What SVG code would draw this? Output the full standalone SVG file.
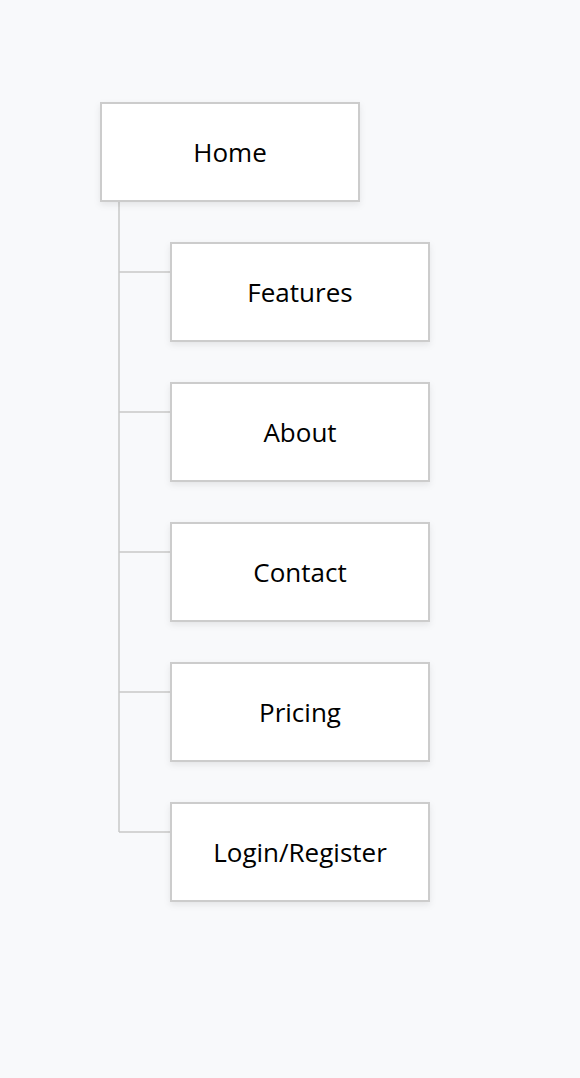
<svg xmlns="http://www.w3.org/2000/svg" width="580" height="1078" viewBox="0 0 580 1078">
<defs>
<filter id="sh" x="-10%" y="-10%" width="130%" height="140%">
<feDropShadow dx="0" dy="3" stdDeviation="3" flood-color="#000" flood-opacity="0.08"/>
</filter>
</defs>
<style>
.box{fill:#ffffff;stroke:#cccccc;stroke-width:2;filter:url(#sh)}
.lbl{font-family:"Open Sans","Noto Sans",sans-serif;font-size:26px;fill:#000;text-anchor:middle}
.con{stroke:#c8c8c8;stroke-width:1.5;fill:none}
</style>
<rect width="580" height="1078" fill="#f8f9fb"/>
<g id="connectors">
<path class="con" d="M119 201V832"/>
<path class="con" d="M119 272H171M119 412H171M119 552H171M119 692H171M119 832H171"/>
</g>
<g id="home"><rect class="box" x="101" y="103" width="258" height="98"/><text class="lbl" x="230" y="162">Home</text></g>
<g id="features"><rect class="box" x="171" y="243" width="258" height="98"/><text class="lbl" x="300" y="302">Features</text></g>
<g id="about"><rect class="box" x="171" y="383" width="258" height="98"/><text class="lbl" x="300" y="442">About</text></g>
<g id="contact"><rect class="box" x="171" y="523" width="258" height="98"/><text class="lbl" x="300" y="582">Contact</text></g>
<g id="pricing"><rect class="box" x="171" y="663" width="258" height="98"/><text class="lbl" x="300" y="722">Pricing</text></g>
<g id="login"><rect class="box" x="171" y="803" width="258" height="98"/><text class="lbl" x="300" y="862">Login/Register</text></g>
</svg>
